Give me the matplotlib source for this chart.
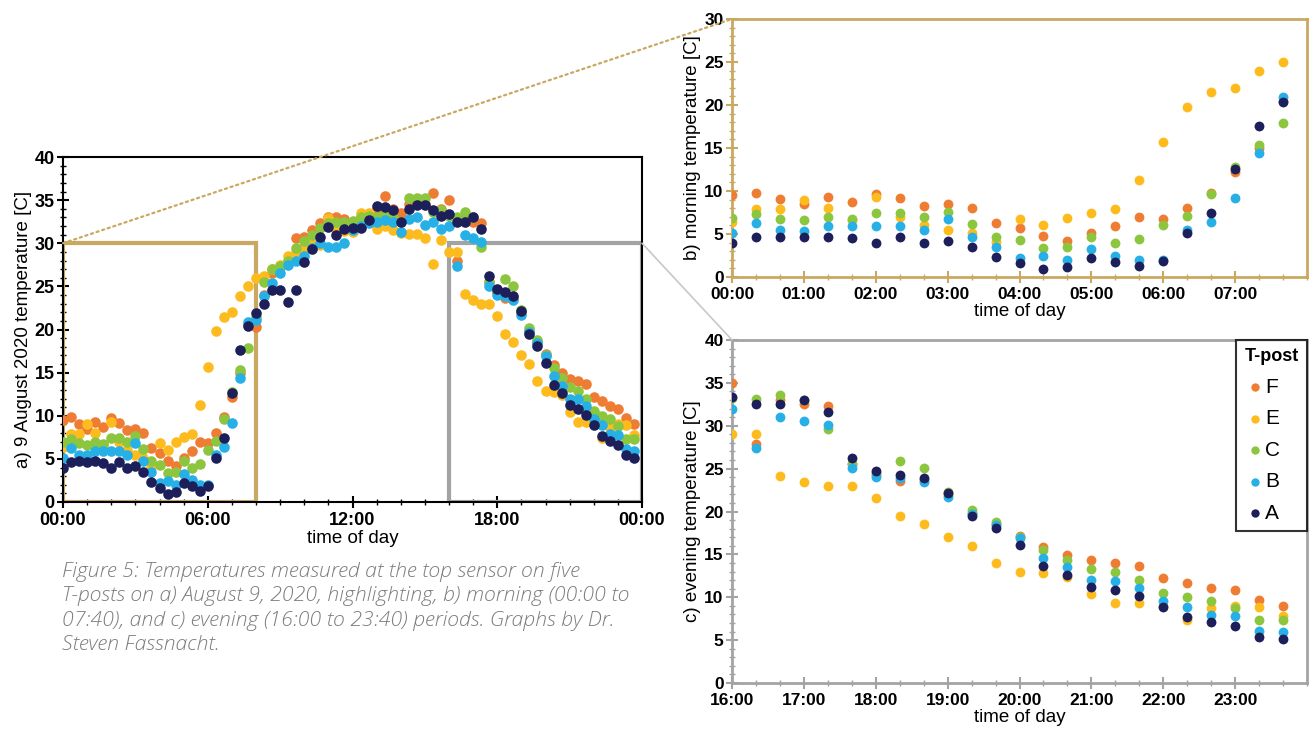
import numpy as np
import matplotlib
matplotlib.use('Agg')
import matplotlib.pyplot as plt
from matplotlib.patches import Rectangle, ConnectionPatch
from matplotlib.ticker import MultipleLocator, FuncFormatter

plt.rcParams['font.family'] = ['Liberation Sans', 'DejaVu Sans']

posts = ['F', 'E', 'C', 'B', 'A']
colors = {'F': '#ee7d33', 'E': '#fdbb1e', 'C': '#8cc63f', 'B': '#26b0e6', 'A': '#1d1f5a'}

# reading times in hours, one reading every 20 minutes
t_morning = np.arange(0, 480, 20) / 60      # 00:00 - 07:40
t_midday = np.arange(480, 960, 20) / 60     # 08:00 - 15:40
t_evening = np.arange(960, 1440, 20) / 60   # 16:00 - 23:40

# morning temperatures [C]
morning_F = [9.5, 9.8, 9.1, 8.5, 9.3, 8.7, 9.7, 9.2, 8.3, 8.5, 8.0, 6.3, 5.7, 4.8, 4.2, 5.1, 5.9, 7.0, 6.8, 8.0, 9.8, 12.2, 15.0, 20.5]
morning_E = [6.4, 7.9, 7.9, 9.0, 8.0, 6.6, 9.3, 7.0, 6.0, 5.5, 5.1, 4.1, 6.8, 6.0, 6.9, 7.5, 7.9, 11.3, 15.7, 19.8, 21.5, 22.0, 23.9, 25.0]
morning_C = [6.9, 7.3, 6.8, 6.6, 7.0, 6.7, 7.4, 7.4, 7.0, 7.6, 6.2, 4.7, 4.3, 3.4, 3.5, 4.7, 4.0, 4.4, 6.0, 7.1, 9.6, 12.8, 15.3, 17.9]
morning_B = [5.1, 6.3, 5.5, 5.4, 5.9, 5.9, 5.9, 5.9, 5.5, 6.8, 4.7, 3.5, 2.2, 2.4, 2.0, 3.3, 2.5, 2.0, 2.0, 5.5, 6.4, 9.2, 14.4, 20.9]
morning_A = [4.0, 4.6, 4.7, 4.6, 4.7, 4.5, 4.0, 4.6, 3.9, 4.2, 3.5, 2.3, 1.6, 0.9, 1.2, 2.2, 1.8, 1.3, 1.9, 5.1, 7.4, 12.6, 17.6, 20.4]

# midday temperatures [C]
midday_F = [20.3, 24.0, 26.5, 27.3, 28.0, 30.6, 30.7, 31.5, 32.4, 33.1, 33.1, 32.8, 32.5, 33.0, 33.3, 34.0, 35.5, 34.0, 33.5, 34.5, 35.0, 34.5, 35.8, 34.0]
midday_E = [26.0, 26.2, 27.0, 27.5, 28.5, 29.0, 29.5, 30.0, 29.8, 32.9, 31.5, 31.4, 31.3, 33.5, 33.5, 31.6, 32.0, 31.5, 31.2, 31.1, 31.1, 30.6, 27.6, 30.4]
midday_C = [21.5, 25.5, 27.0, 27.4, 28.0, 29.5, 30.3, 31.0, 31.8, 32.3, 32.5, 32.5, 32.6, 33.0, 33.2, 33.0, 33.5, 33.0, 32.5, 35.2, 35.3, 35.2, 33.6, 33.8]
midday_B = [21.1, 23.9, 25.4, 26.5, 27.5, 28.0, 28.5, 29.5, 30.0, 29.6, 29.6, 30.0, 31.5, 32.0, 32.3, 32.5, 32.7, 32.5, 31.3, 32.8, 33.1, 32.1, 32.5, 31.7]
midday_A = [21.9, 23.0, 24.6, 24.6, 23.2, 24.6, 27.8, 29.3, 30.7, 31.9, 30.9, 31.7, 31.8, 31.8, 32.7, 34.3, 34.2, 33.8, 32.5, 34.0, 34.4, 34.4, 33.8, 33.2]

# evening temperatures [C]
evening_F = [35.0, 27.9, 33.0, 32.5, 32.3, 25.5, 24.3, 23.6, 23.7, 22.0, 19.8, 18.5, 17.2, 15.9, 14.9, 14.3, 14.0, 13.7, 12.2, 11.7, 11.1, 10.8, 9.7, 9.0]
evening_E = [29.0, 29.0, 24.1, 23.4, 23.0, 23.0, 21.6, 19.5, 18.5, 17.0, 16.0, 14.0, 12.9, 12.8, 12.4, 10.4, 9.3, 9.3, 9.0, 7.4, 8.7, 9.0, 8.9, 7.8]
evening_C = [33.2, 33.1, 33.6, 33.0, 29.6, 25.5, 24.5, 25.9, 25.1, 22.3, 20.2, 18.8, 17.0, 15.5, 14.4, 13.3, 12.9, 12.0, 10.5, 10.0, 9.6, 8.8, 7.3, 7.3]
evening_B = [32.0, 27.4, 31.0, 30.6, 30.1, 25.1, 24.0, 23.9, 23.4, 21.7, 19.7, 18.4, 16.9, 14.6, 13.5, 12.0, 11.9, 11.1, 9.6, 8.9, 7.9, 7.8, 6.1, 5.9]
evening_A = [33.4, 32.5, 32.5, 33.0, 31.6, 26.2, 24.7, 24.3, 23.9, 22.1, 19.5, 18.1, 16.1, 13.6, 12.6, 11.2, 10.8, 10.1, 8.9, 7.7, 7.1, 6.6, 5.4, 5.1]

morning = {'F': morning_F, 'E': morning_E, 'C': morning_C, 'B': morning_B, 'A': morning_A}
midday = {'F': midday_F, 'E': midday_E, 'C': midday_C, 'B': midday_B, 'A': midday_A}
evening = {'F': evening_F, 'E': evening_E, 'C': evening_C, 'B': evening_B, 'A': evening_A}

tan = '#c9a862'
grey = '#a3a3a3'

W, H = 1312, 732
fig = plt.figure(figsize=(W / 100, H / 100), dpi=100)


def px_axes(l, t, r, b):
    return fig.add_axes([l / W, 1 - b / H, (r - l) / W, (b - t) / H])


ax_a = px_axes(63, 157, 642, 502)
ax_b = px_axes(732, 19, 1307, 277)
ax_c = px_axes(732, 340, 1307, 683)

hour_fmt = FuncFormatter(lambda v, p: f'{int(round(v)) % 24:02d}:00')


def style(ax, spine_col, xmaj, xmin, ymaj, ymin, fs):
    for s in ax.spines.values():
        s.set_color(spine_col)
        s.set_linewidth(2)
    ax.xaxis.set_major_locator(MultipleLocator(xmaj))
    ax.xaxis.set_minor_locator(MultipleLocator(xmin))
    ax.yaxis.set_major_locator(MultipleLocator(ymaj))
    ax.yaxis.set_minor_locator(MultipleLocator(ymin))
    ax.xaxis.set_major_formatter(hour_fmt)
    ax.tick_params(which='major', direction='inout', length=8, width=1.5, color=spine_col, labelsize=fs)
    ax.tick_params(which='minor', direction='inout', length=4, width=1, color=spine_col)
    ax.tick_params(axis='x', which='major', pad=3)
    ax.tick_params(axis='y', which='major', pad=2)
    for lab in ax.get_xticklabels() + ax.get_yticklabels():
        lab.set_fontweight('bold')


# a) whole day
for p in posts:
    t_all = np.concatenate([t_morning, t_midday, t_evening])
    v_all = morning[p] + midday[p] + evening[p]
    ax_a.scatter(t_all, v_all, s=58, color=colors[p], lw=0, zorder=3)
ax_a.add_patch(Rectangle((0, 0), 8, 30, fill=False, ec=tan, lw=3, zorder=2))
ax_a.add_patch(Rectangle((16, 0), 8, 30, fill=False, ec=grey, lw=3, zorder=2))
ax_a.set_xlim(0, 24)
ax_a.set_ylim(0, 40)
style(ax_a, 'black', 6, 1, 5, 1, 13)
for s in ax_a.spines.values():
    s.set_linewidth(1.5)
ax_a.set_xlabel('time of day', fontsize=13.5, labelpad=1)
ax_a.set_ylabel('a) 9 August 2020 temperature [C]', fontsize=13.5, labelpad=2)

# b) morning
for p in posts:
    ax_b.scatter(t_morning, morning[p], s=50, color=colors[p], lw=0, zorder=3)
ax_b.set_xlim(0, 8)
ax_b.set_ylim(0, 30)
style(ax_b, tan, 1, 1 / 3, 5, 1, 12.5)
ax_b.set_xticks(np.arange(0, 8))
ax_b.set_xticklabels([f'{h:02d}:00' for h in range(0, 8)], fontweight='bold')
ax_b.set_xlabel('time of day', fontsize=13.5, labelpad=1)
ax_b.set_ylabel('b) morning temperature [C]', fontsize=13.5, labelpad=2)

# c) evening
for p in posts:
    ax_c.scatter(t_evening, evening[p], s=50, color=colors[p], lw=0, zorder=3, label=p)
ax_c.set_xlim(16, 24)
ax_c.set_ylim(0, 40)
style(ax_c, grey, 1, 1 / 3, 5, 1, 12.5)
ax_c.set_xticks(np.arange(16, 24))
ax_c.set_xticklabels([f'{h:02d}:00' for h in range(16, 24)], fontweight='bold')
ax_c.set_xlabel('time of day', fontsize=13.5, labelpad=1)
ax_c.set_ylabel('c) evening temperature [C]', fontsize=13.5, labelpad=2)
leg = ax_c.legend(title='T-post', loc='upper right', borderaxespad=0, fontsize=15,
                  title_fontproperties={'weight': 'bold', 'size': 13}, alignment='left',
                  handletextpad=0.0, labelspacing=0.6, markerscale=0.85,
                  fancybox=False, edgecolor='black', borderpad=0.4, handlelength=1.0)
leg.get_frame().set_linewidth(1.5)

# zoom connectors
fig.add_artist(ConnectionPatch(xyA=(0, 30), coordsA=ax_a.transData, xyB=(0, 30), coordsB=ax_b.transData,
                               color=tan, ls=':', lw=1.6))
fig.add_artist(ConnectionPatch(xyA=(24, 30), coordsA=ax_a.transData, xyB=(16, 40), coordsB=ax_c.transData,
                               color='#c8c8c8', lw=1.2))

caption = ("Figure 5: Temperatures measured at the top sensor on five\n"
           "T-posts on a) August 9, 2020, highlighting, b) morning (00:00 to\n"
           "07:40), and c) evening (16:00 to 23:40) periods. Graphs by Dr.\n"
           "Steven Fassnacht.")
fig.text(62 / W, 1 - 562 / H, caption, ha='left', va='top', fontsize=15.3, color='#7c7c7c',
         family=['Open Sans', 'DejaVu Sans'], style='italic', weight='light', linespacing=1.29)

fig.savefig('out.png', dpi=100)
